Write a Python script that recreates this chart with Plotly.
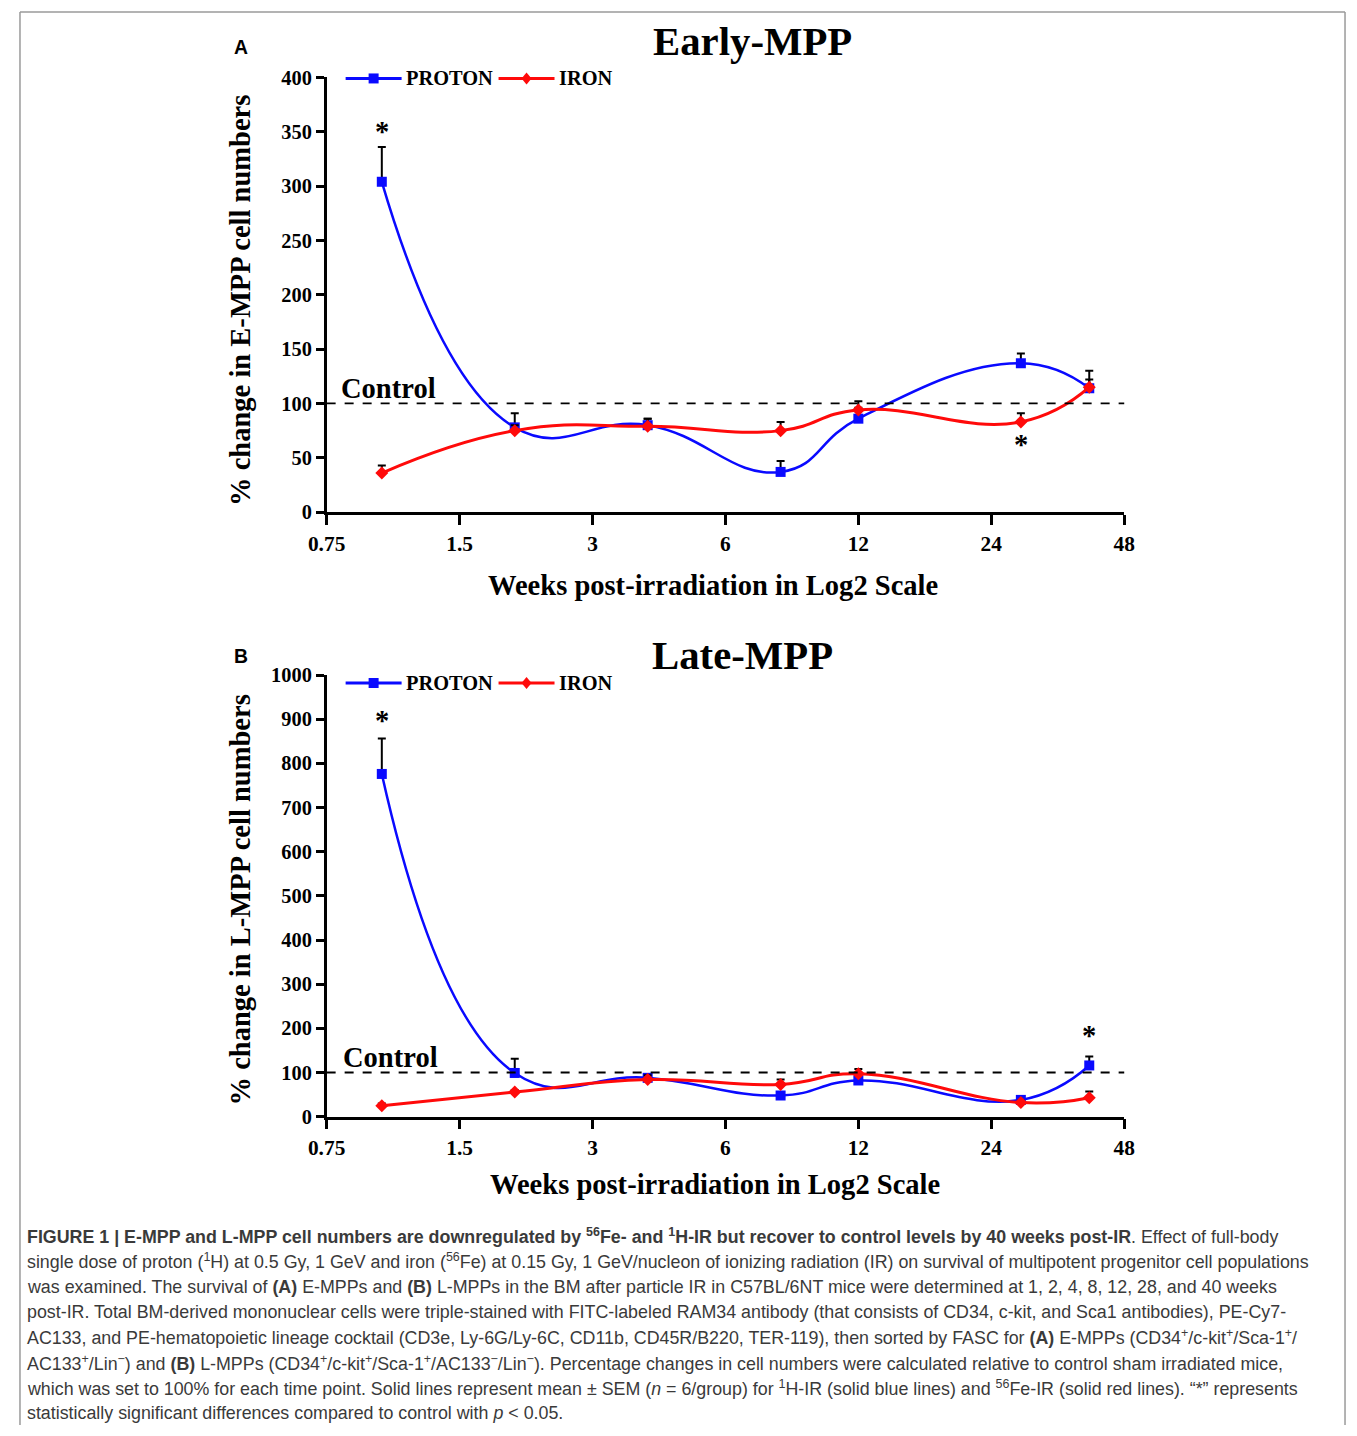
import numpy as np
import plotly.graph_objects as go

W, H = 1357, 1436

# The photographed page shows a slight uniform shrink; positions below are
# given in reference-pixel terms and mapped through this small correction.
SX, OX = 0.9784, 18.2
SY, OY = 0.9854, 10.5
FS = 1 / 0.981  # font-size correction


def X(px):
    return ((px - OX) / SX) / W


def Y(py):
    return 1 - ((py - OY) / SY) / H


def clampx(v):
    return min(max(v, 1.0 / W), 1 - 1.0 / W)


def clampy(v):
    return min(max(v, 0.0), 1 - 1.0 / H)


# ---------------- data ----------------
weeks = [1, 2, 4, 8, 12, 28, 40]
xtick_vals = [0.75, 1.5, 3, 6, 12, 24, 48]
xtick_text = ["0.75", "1.5", "3", "6", "12", "24", "48"]
series_names = ["PROTON", "IRON"]

# Panel A: Early-MPP
a_proton = [304, 78, 80, 37, 86, 137, 114]
a_proton_err = [32, 13, 6, 10, 10, 9, 16]
a_iron = [36, 75, 79, 75, 94, 83, 115]
a_iron_err = [7, 5, 7, 8, 8, 8, 7]
a_stars_x = [1, 28]
a_stars_y = [350, 62]

# Panel B: Late-MPP
b_proton = [776, 99, 88, 48, 82, 38, 116]
b_proton_err = [80, 32, 8, 8, 12, 6, 20]
b_iron = [25, 56, 84, 73, 97, 32, 43]
b_iron_err = [5, 4, 10, 11, 11, 4, 14]
b_stars_x = [1, 40]
b_stars_y = [898, 183]

control_value = 100

SERIF = "Liberation Serif, Times New Roman, serif"
BLUE = "#0a0aff"
RED = "#ff0a0a"

fig = go.Figure()


def add_panel(xa, ya, prot, prot_err, iron, iron_err):
    fig.add_trace(go.Scatter(
        x=weeks, y=prot, mode="lines+markers", name=series_names[0],
        line=dict(color=BLUE, width=2.5, shape="spline", smoothing=1.3),
        marker=dict(symbol="square", size=10, color=BLUE),
        error_y=dict(type="data", symmetric=False, array=prot_err,
                     arrayminus=[0] * len(prot_err), color="black",
                     thickness=2, width=4),
        xaxis=xa, yaxis=ya, cliponaxis=False, showlegend=False))
    fig.add_trace(go.Scatter(
        x=weeks, y=iron, mode="lines+markers", name=series_names[1],
        line=dict(color=RED, width=3, shape="spline", smoothing=1.3),
        marker=dict(symbol="diamond", size=10, color=RED),
        error_y=dict(type="data", symmetric=False, array=iron_err,
                     arrayminus=[0] * len(iron_err), color="black",
                     thickness=2, width=4),
        xaxis=xa, yaxis=ya, cliponaxis=False, showlegend=False))


add_panel("x", "y", a_proton, a_proton_err, a_iron, a_iron_err)
add_panel("x2", "y2", b_proton, b_proton_err, b_iron, b_iron_err)

xaxis_common = dict(
    type="log", range=[np.log10(0.75), np.log10(48)],
    tickvals=xtick_vals, ticktext=xtick_text,
    showline=True, linewidth=2.5, linecolor="black",
    ticks="outside", ticklen=10, tickwidth=2.5, tickcolor="black",
    showgrid=False, zeroline=False,
    tickfont=dict(family=SERIF, size=21 * FS, color="black", weight="bold"),
)
yaxis_common = dict(
    showline=True, linewidth=2.5, linecolor="black",
    ticks="outside", ticklen=8, tickwidth=2.5, tickcolor="black",
    showgrid=False, zeroline=False,
    tickfont=dict(family=SERIF, size=20 * FS, color="black", weight="bold"),
)

fig.update_layout(
    width=W, height=H,
    margin=dict(l=0, r=0, t=0, b=0),
    paper_bgcolor="white", plot_bgcolor="white",
    xaxis=dict(domain=[X(326), X(1124)], anchor="y", **xaxis_common),
    yaxis=dict(domain=[Y(512), Y(77)], anchor="x", range=[0, 400], dtick=50, **yaxis_common),
    xaxis2=dict(domain=[X(326), X(1124)], anchor="y2", **xaxis_common),
    yaxis2=dict(domain=[Y(1117), Y(675)], anchor="x2", range=[0, 1000], dtick=100, **yaxis_common),
    showlegend=False,
)

# control dashed lines
for xr, yr in [("x", "y"), ("x2", "y2")]:
    fig.add_shape(type="line", xref=f"{xr} domain", yref=yr, x0=0, x1=1,
                  y0=control_value, y1=control_value,
                  line=dict(color="black", width=1.8, dash="dash"))

# figure border (left, top, right; bottom is cut off in the reference)
BORDER = dict(color="#9a9a9a", width=1.5)
bx0, bx1, by1 = clampx(X(9)), clampx(X(1354)), clampy(Y(7))
fig.add_shape(type="line", xref="paper", yref="paper", x0=bx0, x1=bx0, y0=0, y1=by1, line=BORDER)
fig.add_shape(type="line", xref="paper", yref="paper", x0=bx0, x1=bx1, y0=by1, y1=by1, line=BORDER)
fig.add_shape(type="line", xref="paper", yref="paper", x0=bx1, x1=bx1, y0=0, y1=by1, line=BORDER)

ann = []


def text(px, py, s, size, family=SERIF, bold=True, xanchor="center",
         yanchor="middle", angle=0, color="black"):
    ann.append(dict(x=X(px), y=Y(py), xref="paper", yref="paper", text=s,
                    showarrow=False, xanchor=xanchor, yanchor=yanchor,
                    textangle=angle,
                    font=dict(family=family, size=size * FS, color=color,
                              weight="bold" if bold else "normal")))


# legend keys (drawn like the original key: long line + marker)
def legend_key(py):
    for (lx0, lx1, color, kind, name) in [(345, 401, BLUE, "square", series_names[0]),
                                          (498, 554, RED, "diamond", series_names[1])]:
        fig.add_shape(type="line", xref="paper", yref="paper", x0=X(lx0), x1=X(lx1),
                      y0=Y(py), y1=Y(py), line=dict(color=color, width=3))
        cx = (lx0 + lx1) / 2
        if kind == "square":
            fig.add_shape(type="rect", xref="paper", yref="paper",
                          x0=X(cx - 5), x1=X(cx + 5), y0=Y(py + 5), y1=Y(py - 5),
                          line=dict(width=0), fillcolor=color)
        else:
            path = "M {} {} L {} {} L {} {} L {} {} Z".format(
                X(cx), Y(py - 6), X(cx + 5), Y(py), X(cx), Y(py + 6), X(cx - 5), Y(py))
            fig.add_shape(type="path", xref="paper", yref="paper", path=path,
                          line=dict(width=0), fillcolor=color)
        text(lx1 + 2, py, name, 20, xanchor="left")


legend_key(78)
legend_key(683)

# Panel A texts
text(240, 47, "A", 19, family="Liberation Sans, Arial, sans-serif")
text(752, 41, "Early-MPP", 40)
text(240, 300, "% change in E-MPP cell numbers", 28, angle=-90)
text(713, 585, "Weeks post-irradiation in Log2 Scale", 28)
text(388, 388, "Control", 28)

# Panel B texts
text(240, 656, "B", 19, family="Liberation Sans, Arial, sans-serif")
text(742, 655, "Late-MPP", 40)
text(240, 900, "% change in L-MPP cell numbers", 28, angle=-90)
text(715, 1185, "Weeks post-irradiation in Log2 Scale", 28)
text(390, 1058, "Control", 28)

# significance stars
for xs, ys, xr, yr in [(a_stars_x, a_stars_y, "x", "y"), (b_stars_x, b_stars_y, "x2", "y2")]:
    for xv, yv in zip(xs, ys):
        ann.append(dict(x=np.log10(xv), y=yv, xref=xr, yref=yr, text="*",
                        showarrow=False, xanchor="center", yanchor="middle",
                        font=dict(family=SERIF, size=28 * FS, color="black", weight="bold")))

# caption
CAP = "Liberation Sans, Arial, sans-serif"
cap_lines = [
    "<b>FIGURE 1 | E-MPP and L-MPP cell numbers are downregulated by <sup>56</sup>Fe- and <sup>1</sup>H-IR but recover to control levels by 40 weeks post-IR</b>. Effect of full-body",
    "single dose of proton (<sup>1</sup>H) at 0.5 Gy, 1 GeV and iron (<sup>56</sup>Fe) at 0.15 Gy, 1 GeV/nucleon of ionizing radiation (IR) on survival of multipotent progenitor cell populations",
    "was examined. The survival of <b>(A)</b> E-MPPs and <b>(B)</b> L-MPPs in the BM after particle IR in C57BL/6NT mice were determined at 1, 2, 4, 8, 12, 28, and 40 weeks",
    "post-IR. Total BM-derived mononuclear cells were triple-stained with FITC-labeled RAM34 antibody (that consists of CD34, c-kit, and Sca1 antibodies), PE-Cy7-",
    "AC133, and PE-hematopoietic lineage cocktail (CD3e, Ly-6G/Ly-6C, CD11b, CD45R/B220, TER-119), then sorted by FASC for <b>(A)</b> E-MPPs (CD34<sup>+</sup>/c-kit<sup>+</sup>/Sca-1<sup>+</sup>/",
    "AC133<sup>+</sup>/Lin<sup>\u2212</sup>) and <b>(B)</b> L-MPPs (CD34<sup>+</sup>/c-kit<sup>+</sup>/Sca-1<sup>+</sup>/AC133<sup>\u2212</sup>/Lin<sup>\u2212</sup>). Percentage changes in cell numbers were calculated relative to control sham irradiated mice,",
    "which was set to 100% for each time point. Solid lines represent mean \u00b1 SEM (<i>n</i> = 6/group) for <sup>1</sup>H-IR (solid blue lines) and <sup>56</sup>Fe-IR (solid red lines). \u201c*\u201d represents",
    "statistically significant differences compared to control with <i>p</i> &lt; 0.05.",
]
cap_y = [1247, 1272, 1298, 1323, 1348, 1374, 1399, 1424]
# keep the caption block fully on the page
cap_paper = [Y(py) for py in cap_y]
min_allowed = 12.0 / H
shift = max(0.0, min_allowed - min(cap_paper))
for s, yp in zip(cap_lines, cap_paper):
    ann.append(dict(x=X(24), y=yp + shift, xref="paper", yref="paper", text=s,
                    showarrow=False, xanchor="left", yanchor="middle", align="left",
                    font=dict(family=CAP, size=17.5 * FS, color="#3a3a3a")))

fig.update_layout(annotations=ann)
fig.write_html(
    "out.html",
    config={"displayModeBar": False},
    post_script="document.body.style.margin='0';",
)
